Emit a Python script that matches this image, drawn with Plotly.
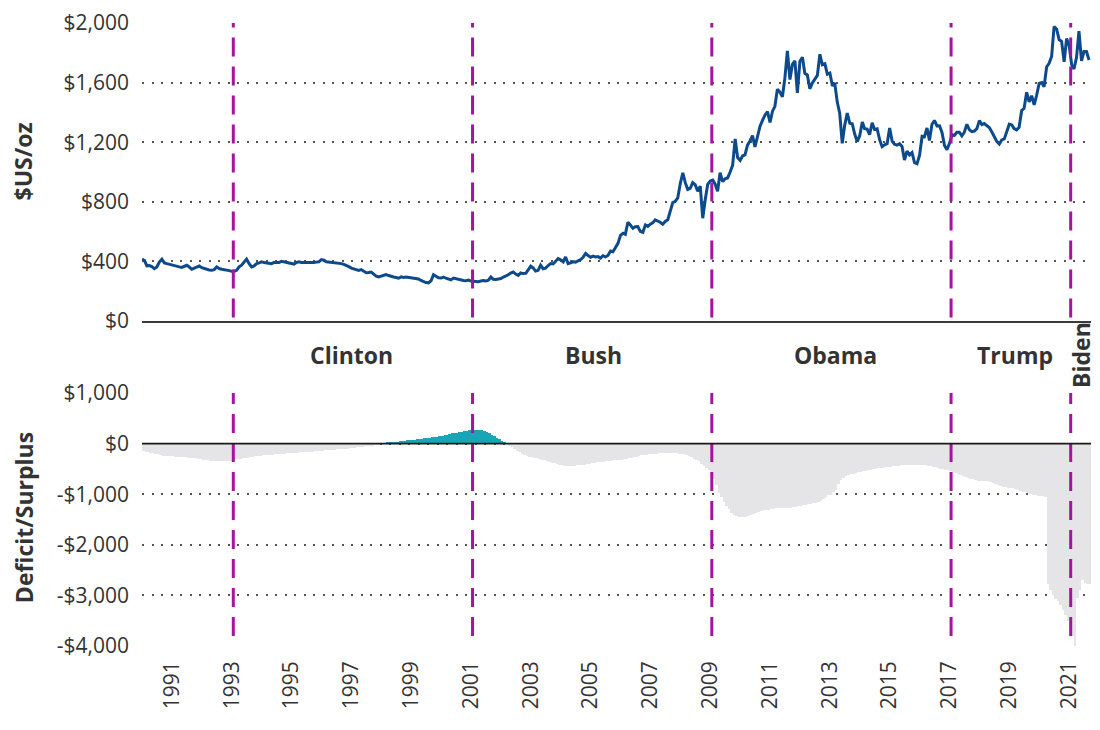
import pandas as pd
import plotly.graph_objects as go

# ---------------- DATA ----------------
# Month-end gold price, $US/oz, Jan 1990 .. Sep 2021
gold_1990s = [
    415, 405, 370, 372, 365, 351, 362, 395, 415, 390, 385, 380,
    378, 368, 365, 363, 360, 370, 374, 362, 347, 355, 362, 369,
    358, 352, 347, 342, 340, 345, 363, 352, 347, 345, 340, 338,
    333, 333, 340, 363, 375, 395, 415, 385, 363, 370, 385, 390,
    397, 392, 390, 388, 385, 392, 390, 392, 401, 397, 392, 388,
    385, 382, 392, 397, 393, 390, 392, 392, 390, 392, 395, 397,
    412, 408, 397, 395, 393, 390, 390, 390, 385, 380, 375, 365,
    355, 350, 348, 340, 345, 335, 324, 325, 328, 315, 300, 295,
    300, 302, 311, 305, 298, 295, 292, 287, 296, 292, 295, 292,
    288, 287, 283, 282, 272, 262, 258, 256, 270, 311, 300, 290,
]
gold_2000s = [
    288, 295, 287, 280, 276, 288, 283, 278, 277, 272, 270, 275,
    268, 265, 262, 264, 268, 271, 268, 274, 295, 280, 278, 280,
    285, 295, 300, 310, 322, 329, 315, 306, 322, 318, 320, 342,
    368, 355, 335, 340, 374, 351, 355, 372, 385, 383, 398, 419,
    410, 397, 430, 385, 390, 398, 395, 405, 412, 428, 453, 440,
    428, 435, 430, 432, 422, 438, 430, 440, 470, 465, 490, 521,
    575, 589, 582, 663, 645, 622, 632, 634, 600, 595, 645, 635,
    650, 660, 679, 672, 663, 650, 668, 679, 740, 795, 803, 826,
    923, 995, 930, 883, 890, 928, 915, 871, 905, 690, 815, 917,
    939, 945, 920, 871, 995, 935, 955, 960, 1000, 1045, 1222, 1097,
]
gold_2010s = [
    1078, 1109, 1115, 1180, 1208, 1244, 1169, 1246, 1307, 1346, 1383, 1405,
    1333, 1410, 1439, 1556, 1536, 1505, 1628, 1813, 1620, 1722, 1746, 1531,
    1744, 1770, 1662, 1651, 1558, 1598, 1622, 1648, 1790, 1720, 1726, 1657,
    1664, 1578, 1598, 1469, 1394, 1192, 1314, 1396, 1327, 1324, 1253, 1204,
    1244, 1335, 1291, 1288, 1250, 1330, 1285, 1289, 1216, 1170, 1182, 1190,
    1295, 1205, 1187, 1180, 1190, 1171, 1080, 1140, 1115, 1130, 1062, 1055,
    1111, 1240, 1237, 1295, 1212, 1320, 1346, 1309, 1310, 1266, 1178, 1150,
    1192, 1250, 1245, 1266, 1266, 1242, 1267, 1320, 1283, 1271, 1275, 1291,
    1345, 1318, 1325, 1312, 1299, 1270, 1237, 1205, 1187, 1215, 1222, 1279,
    1321, 1316, 1292, 1283, 1300, 1412, 1427, 1535, 1470, 1512, 1450, 1515,
]
gold_2020s = [
    1595, 1600, 1572, 1705, 1729, 1775, 1975, 1960, 1887, 1877, 1740, 1895,
    1850, 1719, 1691, 1768, 1945, 1745, 1808, 1808, 1752,
]

# Rolling 12-month federal deficit (-) / surplus (+), $bn, Jan 1990 .. Sep 2021
deficit_1990s = [
    -152, -160, -170, -180, -190, -200, -215, -230, -237, -240, -245, -250,
    -250, -255, -258, -262, -266, -270, -275, -280, -283, -290, -300, -310,
    -320, -329, -333, -338, -342, -345, -349, -348, -346, -344, -342, -338,
    -316, -310, -305, -300, -292, -285, -275, -263, -255, -250, -245, -240,
    -235, -230, -226, -222, -217, -212, -208, -204, -200, -196, -193, -190,
    -185, -180, -176, -171, -168, -165, -162, -160, -158, -155, -150, -145,
    -140, -136, -132, -128, -124, -120, -115, -110, -106, -102, -97, -92,
    -86, -80, -74, -68, -62, -55, -50, -45, -40, -30, -20, -8,
    -3, 5, 12, 20, 28, 35, 40, 46, 52, 58, 66, 70,
    74, 80, 86, 92, 98, 105, 112, 118, 124, 130, 138, 145,
]
deficit_2000s = [
    160, 170, 178, 190, 200, 210, 218, 224, 235, 245, 255, 263,
    268, 272, 276, 277, 270, 250, 225, 200, 178, 150, 120, 92,
    60, 25, -5, -40, -75, -110, -140, -170, -200, -225, -250, -260,
    -270, -280, -292, -304, -316, -330, -345, -360, -375, -390, -405, -420,
    -430, -440, -448, -445, -440, -435, -430, -425, -420, -415, -410, -405,
    -382, -378, -372, -366, -360, -354, -348, -342, -335, -328, -322, -316,
    -316, -305, -295, -285, -275, -265, -255, -245, -235, -228, -220, -215,
    -210, -205, -200, -195, -190, -187, -184, -182, -180, -185, -190, -200,
    -205, -210, -217, -240, -270, -300, -330, -349, -400, -450, -490, -514,
    -600, -700, -820, -975, -1060, -1150, -1238, -1300, -1380, -1420, -1436, -1445,
]
deficit_2010s = [
    -1450, -1460, -1455, -1436, -1420, -1400, -1380, -1360, -1340, -1320, -1310, -1304,
    -1300, -1290, -1280, -1271, -1268, -1265, -1265, -1265, -1265, -1260, -1250, -1235,
    -1225, -1215, -1205, -1195, -1185, -1175, -1165, -1155, -1140, -1100, -1060, -1020,
    -1008, -960, -909, -800, -711, -680, -650, -630, -610, -595, -580, -570,
    -560, -550, -540, -530, -520, -510, -500, -490, -481, -475, -470, -465,
    -460, -452, -445, -435, -430, -428, -425, -423, -420, -418, -416, -415,
    -415, -420, -428, -436, -445, -455, -466, -481, -495, -505, -515, -527,
    -540, -560, -580, -600, -620, -646, -660, -675, -690, -705, -720, -735,
    -738, -740, -742, -745, -760, -780, -800, -820, -840, -855, -865, -870,
    -872, -876, -890, -910, -930, -950, -965, -980, -995, -1008, -1020, -1030,
]
deficit_2020s = [
    -1038, -1045, -1054, -2780, -2900, -3000, -3080, -3120, -3180, -3280, -3380, -3500,
    -3620, -3800, -4071, -3050, -2900, -2700, -2750, -2780, -2780,
]

inaugurations = ["1993-01-20", "2001-01-20", "2009-01-20", "2017-01-20", "2021-01-20"]
presidents = ["Clinton", "Bush", "Obama", "Trump", "Biden"]
president_label_x = ["1997-01-01", "2005-02-01", "2013-03-15", "2019-03-15", "2021-05-25"]

gold_ticks = [0, 400, 800, 1200, 1600, 2000]
gold_tick_text = ["$0", "$400", "$800", "$1,200", "$1,600", "$2,000"]
deficit_ticks = [-4000, -3000, -2000, -1000, 0, 1000]
deficit_tick_text = ["-$4,000", "-$3,000", "-$2,000", "-$1,000", "$0", "$1,000"]
year_ticks = list(range(1991, 2022, 2))

# ---------------- BUILD ----------------
gold = gold_1990s + gold_2000s + gold_2010s + gold_2020s
deficit = deficit_1990s + deficit_2000s + deficit_2010s + deficit_2020s
months = pd.date_range("1990-01-01", periods=len(gold), freq="MS")
bar_x = months + pd.Timedelta(days=15)

LINE = "#0c4a8c"
TEAL = "#18a6b6"
GRAY = "#e5e5e7"
MAGENTA = "#a6139e"
TEXT = "#333333"
FONT = "Open Sans"

fig = go.Figure()
fig.add_trace(go.Scatter(
    x=months, y=gold, mode="lines",
    line=dict(color=LINE, width=3),
    xaxis="x", yaxis="y", hoverinfo="skip",
))
fig.add_trace(go.Bar(
    x=bar_x, y=deficit,
    marker=dict(color=[TEAL if v > 0 else GRAY for v in deficit], line=dict(width=0)),
    width=31 * 24 * 3600 * 1000,
    xaxis="x2", yaxis="y2", hoverinfo="skip",
))

x_range = ["1990-01-01", "2021-09-25"]
grid = dict(showgrid=True, gridcolor="#555555", gridwidth=1.5, griddash="2px,7.5px")

# the page body adds an 8px offset, margins compensate for it
fig.update_layout(
    width=1100, height=730,
    margin=dict(l=134, r=17, t=15, b=92, autoexpand=False),
    paper_bgcolor="white", plot_bgcolor="white",
    showlegend=False, bargap=0,
    font=dict(family=FONT, color=TEXT, size=21),
    xaxis=dict(
        type="date", range=x_range, domain=[0, 1], anchor="y",
        showgrid=False, zeroline=False, showticklabels=False, ticks="",
        showline=True, linecolor="#3a3a3a", linewidth=1.6,
    ),
    yaxis=dict(
        domain=[0.5217, 1.0], range=[0, 2000], anchor="x",
        tickvals=gold_ticks, ticktext=gold_tick_text,
        tickfont=dict(size=21, color=TEXT, family=FONT),
        zeroline=False, ticks="", ticklabelstandoff=12, **grid,
    ),
    xaxis2=dict(
        type="date", range=x_range, domain=[0, 1], anchor="y2", matches="x",
        showgrid=False, zeroline=False, showline=False, ticks="",
        tickvals=[f"{y}-01-01" for y in year_ticks],
        ticktext=[str(y) for y in year_ticks],
        tickangle=-90, tickfont=dict(size=21, color=TEXT, family=FONT),
        ticklabelstandoff=10,
    ),
    yaxis2=dict(
        domain=[0, 0.4061], range=[-4000, 1000], anchor="x2",
        tickvals=deficit_ticks, ticktext=deficit_tick_text,
        tickfont=dict(size=21, color=TEXT, family=FONT),
        zeroline=False, ticks="", ticklabelstandoff=12, **grid,
    ),
)

shapes = []
for d in inaugurations:
    shapes.append(dict(type="line", xref="x", yref="y domain", x0=d, x1=d, y0=0.012, y1=1.0,
                       line=dict(color=MAGENTA, width=3, dash="19px,10px"), layer="above"))
    shapes.append(dict(type="line", xref="x2", yref="y2 domain", x0=d, x1=d, y0=0.04, y1=1.0,
                       line=dict(color=MAGENTA, width=3, dash="19px,10px"), layer="above"))
shapes.append(dict(type="line", xref="x2 domain", yref="y2", x0=0, x1=1, y0=0, y1=0,
                   line=dict(color="#1a1a1a", width=1.6), layer="above"))
fig.update_layout(shapes=shapes)

annotations = [
    dict(text="<b>$US/oz</b>", xref="paper", yref="paper", x=-0.1249, y=0.7785,
         textangle=-90, showarrow=False, xanchor="center", yanchor="middle",
         font=dict(size=23, color=TEXT, family=FONT)),
    dict(text="<b>Deficit/Surplus</b>", xref="paper", yref="paper", x=-0.1249, y=0.206,
         textangle=-90, showarrow=False, xanchor="center", yanchor="middle",
         font=dict(size=23, color=TEXT, family=FONT)),
]
for name, px in zip(presidents, president_label_x):
    annotations.append(dict(
        text=f"<b>{name}</b>", xref="x", yref="paper", x=px, y=0.4671,
        showarrow=False, xanchor="center", yanchor="middle",
        textangle=-90 if name == "Biden" else 0,
        font=dict(size=23, color=TEXT, family=FONT),
    ))
fig.update_layout(annotations=annotations)

fig.write_html("out.html")
